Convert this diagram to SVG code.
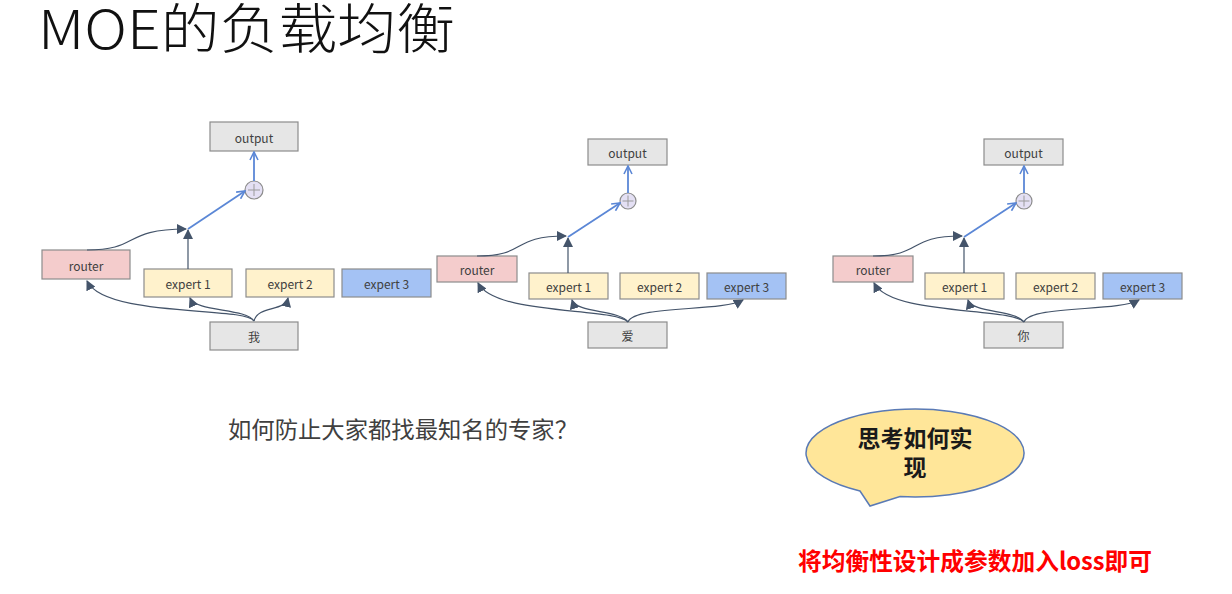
<svg xmlns="http://www.w3.org/2000/svg" width="1232" height="594" viewBox="0 0 1232 594">
<defs>
<marker id="fill" viewBox="0 0 10 10" refX="9" refY="5" markerWidth="10" markerHeight="10" markerUnits="userSpaceOnUse" orient="auto">
<path d="M0,0 L10,5 L0,10 Z" fill="#44546a"/>
</marker>
<marker id="open" viewBox="0 0 10 10" refX="9" refY="5" markerWidth="10" markerHeight="10" markerUnits="userSpaceOnUse" orient="auto">
<path d="M1,1 L9,5 L1,9" fill="none" stroke="#5b87d6" stroke-width="1.6"/>
</marker>
<style>
.t{font-family:"Noto Sans CJK SC","Noto Sans",sans-serif;}
.lbl{font-family:"Noto Sans CJK SC","Noto Sans",sans-serif;font-size:12px;fill:#404040;text-anchor:middle;dominant-baseline:central;}
.box{stroke:#8c8c8c;stroke-width:1.2;}
.gray{fill:#e6e6e6;}
.router{fill:#f4cccc;}
.exp{fill:#fff2cc;}
.exp3{fill:#a4c2f4;}
.sum{fill:#e4e0f4;stroke:#8c8c8c;stroke-width:1.2;}
.plus{stroke:#9a9a9a;stroke-width:1;}
.dk{fill:none;stroke:#44546a;stroke-width:1.2;marker-end:url(#fill);}
.bl{fill:none;stroke:#5b87d6;stroke-width:1.8;marker-end:url(#open);}
</style>
</defs>
<rect width="1232" height="594" fill="#ffffff"/>
<text class="t" x="38" y="49" font-size="54" font-weight="300" fill="#111" textLength="417" lengthAdjust="spacingAndGlyphs">MOE的负载均衡</text>

<!-- Panel 1 -->
<g id="p1-output"><rect class="box gray" x="210" y="122" width="88" height="29"/><text class="lbl" x="254" y="137">output</text></g>
<g id="p1-sum"><circle class="sum" cx="254" cy="190" r="9"/><path class="plus" d="M248,190 H260 M254,184 V196"/></g>
<g id="p1-router"><rect class="box router" x="42" y="250" width="88" height="29"/><text class="lbl" x="86" y="265">router</text></g>
<g id="p1-expert1"><rect class="box exp" x="144" y="269" width="88" height="28"/><text class="lbl" x="188" y="283.5">expert 1</text></g>
<g id="p1-expert2"><rect class="box exp" x="246" y="269" width="88" height="28"/><text class="lbl" x="290" y="283.5">expert 2</text></g>
<g id="p1-expert3"><rect class="box exp3" x="342" y="269" width="89" height="28"/><text class="lbl" x="386.5" y="283.5">expert 3</text></g>
<g id="p1-input"><rect class="box gray" x="210" y="322" width="88" height="28"/><text class="lbl" x="254" y="336.5">我</text></g>

<!-- Panel 2 -->
<g id="p2-output"><rect class="box gray" x="588" y="139" width="79" height="26"/><text class="lbl" x="627.5" y="152.5">output</text></g>
<g id="p2-sum"><circle class="sum" cx="628" cy="201" r="8"/><path class="plus" d="M622.5,201 H633.5 M628,195.5 V206.5"/></g>
<g id="p2-router"><rect class="box router" x="437" y="256" width="80" height="26"/><text class="lbl" x="477" y="269.5">router</text></g>
<g id="p2-expert1"><rect class="box exp" x="529" y="273" width="79" height="26"/><text class="lbl" x="568.5" y="286.5">expert 1</text></g>
<g id="p2-expert2"><rect class="box exp" x="620" y="273" width="79" height="26"/><text class="lbl" x="659.5" y="286.5">expert 2</text></g>
<g id="p2-expert3"><rect class="box exp3" x="707" y="273" width="79" height="26"/><text class="lbl" x="746.5" y="286.5">expert 3</text></g>
<g id="p2-input"><rect class="box gray" x="588" y="322" width="79" height="26"/><text class="lbl" x="627.5" y="335.5">爱</text></g>

<!-- Panel 3 -->
<g id="p3-output"><rect class="box gray" x="984" y="139" width="79" height="26"/><text class="lbl" x="1023.5" y="152.5">output</text></g>
<g id="p3-sum"><circle class="sum" cx="1024" cy="201" r="8"/><path class="plus" d="M1018.5,201 H1029.5 M1024,195.5 V206.5"/></g>
<g id="p3-router"><rect class="box router" x="833" y="256" width="80" height="26"/><text class="lbl" x="873" y="269.5">router</text></g>
<g id="p3-expert1"><rect class="box exp" x="925" y="273" width="79" height="26"/><text class="lbl" x="964.5" y="286.5">expert 1</text></g>
<g id="p3-expert2"><rect class="box exp" x="1016" y="273" width="79" height="26"/><text class="lbl" x="1055.5" y="286.5">expert 2</text></g>
<g id="p3-expert3"><rect class="box exp3" x="1103" y="273" width="79" height="26"/><text class="lbl" x="1142.5" y="286.5">expert 3</text></g>
<g id="p3-input"><rect class="box gray" x="984" y="322" width="79" height="26"/><text class="lbl" x="1023.5" y="335.5">你</text></g>

<g id="connectors">
<!-- panel 1 -->
<path class="dk" d="M254,321 C245,306 105,318 87,281"/>
<path class="dk" d="M254,321 C246,308 196,312 190,298"/>
<path class="dk" d="M254,321 C258,305 285,312 288,298"/>
<path class="dk" d="M188,269 V230"/>
<path class="dk" d="M87,250 C140,250 122,229 186,229"/>
<path class="bl" d="M188,229 L245,191"/>
<path class="bl" d="M254,181 V152"/>
<!-- panel 2 -->
<path class="dk" d="M628,322 C615,307 495,316 478,283"/>
<path class="dk" d="M628,322 C620,310 576,313 572,300"/>
<path class="dk" d="M628,322 C635,305 722,312 743,300"/>
<path class="dk" d="M568,273 V238"/>
<path class="dk" d="M477,256 C528,256 510,236 566,236"/>
<path class="bl" d="M568,237 L620,203"/>
<path class="bl" d="M628,193 V166"/>
<!-- panel 3 -->
<path class="dk" d="M1024,322 C1011,307 891,316 874,283"/>
<path class="dk" d="M1024,322 C1016,310 972,313 968,300"/>
<path class="dk" d="M1024,322 C1031,305 1118,312 1139,300"/>
<path class="dk" d="M964,273 V238"/>
<path class="dk" d="M873,256 C924,256 906,236 962,236"/>
<path class="bl" d="M964,237 L1016,203"/>
<path class="bl" d="M1024,193 V166"/>
</g>

<text class="t" x="228" y="438" font-size="23" fill="#404040" textLength="350" lengthAdjust="spacingAndGlyphs">如何防止大家都找最知名的专家？</text>

<g id="bubble">
<path d="M860,491 L870,506 L900,496.6 A109,44 0 1 0 860,491 Z" fill="#ffe699" stroke="#5a7ab5" stroke-width="1.5"/>
<text class="t" font-size="23" font-weight="700" fill="#1a1a1a" text-anchor="middle"><tspan x="915" y="447">思考如何实</tspan><tspan x="915" y="476">现</tspan></text>
</g>

<text class="t" x="798" y="570" font-size="24" font-weight="700" fill="#ff0000" textLength="354" lengthAdjust="spacingAndGlyphs">将均衡性设计成参数加入loss即可</text>
</svg>
